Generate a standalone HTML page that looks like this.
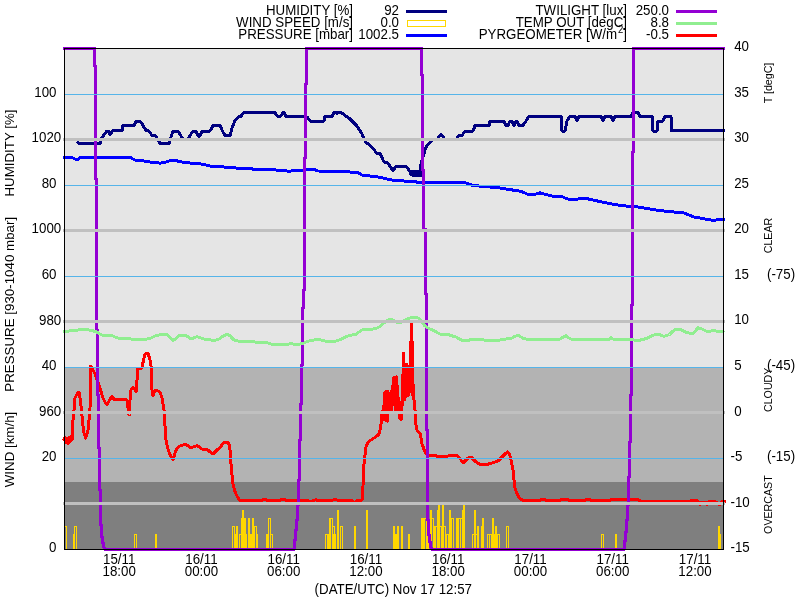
<!DOCTYPE html>
<html><head><meta charset="utf-8"><title>Weather station</title>
<style>
html,body{margin:0;padding:0;background:#fff;}
svg{display:block;}
text{font-family:"Liberation Sans",sans-serif;fill:#000;}
</style></head><body>
<svg width="800" height="600" viewBox="0 0 800 600" font-size="13.33" shape-rendering="crispEdges">
<rect width="800" height="600" fill="#fff"/>
<rect x="64" y="48" width="660" height="319" fill="#e5e5e5"/>
<rect x="64" y="367" width="660" height="115" fill="#b3b3b3"/>
<rect x="64" y="482" width="660" height="67.5" fill="#7f7f7f"/>
<g stroke="#ffd700" stroke-width="1">
<rect x="64.5" y="526.5" width="2" height="23" fill="none"/>
<rect x="73.5" y="534.5" width="1" height="15" fill="none"/>
<rect x="74.5" y="526.5" width="2" height="23" fill="none"/>
<rect x="134.5" y="534.5" width="2" height="15" fill="none"/>
<rect x="155" y="534" width="2" height="15" fill="#ffd700" stroke="none"/>
<rect x="232.5" y="526.5" width="2" height="23" fill="none"/>
<rect x="234" y="534" width="4" height="15" fill="#ffd700" stroke="none"/>
<rect x="236" y="526" width="2" height="23" fill="#ffd700" stroke="none"/>
<rect x="239.5" y="534.5" width="2" height="15" fill="none"/>
<rect x="241" y="518" width="5" height="31" fill="#ffd700" stroke="none"/>
<rect x="242" y="510" width="2" height="39" fill="#ffd700" stroke="none"/>
<rect x="246" y="534" width="1" height="15" fill="#ffd700" stroke="none"/>
<rect x="248" y="518" width="2" height="31" fill="#ffd700" stroke="none"/>
<rect x="250" y="534" width="2" height="15" fill="#ffd700" stroke="none"/>
<rect x="252" y="518" width="2" height="31" fill="#ffd700" stroke="none"/>
<rect x="254.5" y="526.5" width="2" height="23" fill="none"/>
<rect x="256" y="534" width="2" height="15" fill="#ffd700" stroke="none"/>
<rect x="266" y="534" width="2" height="15" fill="#ffd700" stroke="none"/>
<rect x="268.5" y="518.5" width="2" height="31" fill="none"/>
<rect x="270.5" y="534.5" width="2" height="15" fill="none"/>
<rect x="325.5" y="534.5" width="2" height="15" fill="none"/>
<rect x="327" y="534" width="2" height="15" fill="#ffd700" stroke="none"/>
<rect x="329" y="518" width="4" height="31" fill="#ffd700" stroke="none"/>
<rect x="332.5" y="526.5" width="2" height="23" fill="none"/>
<rect x="333" y="534" width="3" height="15" fill="#ffd700" stroke="none"/>
<rect x="337" y="510" width="2" height="39" fill="#ffd700" stroke="none"/>
<rect x="340.5" y="526.5" width="2" height="23" fill="none"/>
<rect x="354" y="526" width="2" height="23" fill="#ffd700" stroke="none"/>
<rect x="366" y="510" width="2" height="39" fill="#ffd700" stroke="none"/>
<rect x="393" y="526" width="2" height="23" fill="#ffd700" stroke="none"/>
<rect x="395" y="534" width="2" height="15" fill="#ffd700" stroke="none"/>
<rect x="397" y="526" width="2" height="23" fill="#ffd700" stroke="none"/>
<rect x="401" y="526" width="2" height="23" fill="#ffd700" stroke="none"/>
<rect x="408" y="534" width="2" height="15" fill="#ffd700" stroke="none"/>
<rect x="421" y="518" width="6" height="31" fill="#ffd700" stroke="none"/>
<rect x="427" y="534" width="2" height="15" fill="#ffd700" stroke="none"/>
<rect x="430" y="510" width="2" height="39" fill="#ffd700" stroke="none"/>
<rect x="432" y="518" width="2" height="31" fill="#ffd700" stroke="none"/>
<rect x="434" y="526" width="3" height="23" fill="#ffd700" stroke="none"/>
<rect x="437" y="510" width="1" height="39" fill="#ffd700" stroke="none"/>
<rect x="438" y="505" width="2" height="44" fill="#ffd700" stroke="none"/>
<rect x="440" y="526" width="2" height="23" fill="#ffd700" stroke="none"/>
<rect x="442" y="505" width="2" height="44" fill="#ffd700" stroke="none"/>
<rect x="444" y="526" width="2" height="23" fill="#ffd700" stroke="none"/>
<rect x="446" y="534" width="3" height="15" fill="#ffd700" stroke="none"/>
<rect x="449" y="510" width="2" height="39" fill="#ffd700" stroke="none"/>
<rect x="451" y="518" width="3" height="31" fill="#ffd700" stroke="none"/>
<rect x="456" y="518" width="6" height="31" fill="#ffd700" stroke="none"/>
<rect x="462" y="510" width="1" height="39" fill="#ffd700" stroke="none"/>
<rect x="463" y="505" width="2" height="44" fill="#ffd700" stroke="none"/>
<rect x="472" y="534" width="2" height="15" fill="#ffd700" stroke="none"/>
<rect x="474" y="510" width="2" height="39" fill="#ffd700" stroke="none"/>
<rect x="476" y="534" width="1" height="15" fill="#ffd700" stroke="none"/>
<rect x="477" y="526" width="2" height="23" fill="#ffd700" stroke="none"/>
<rect x="481" y="526" width="1" height="23" fill="#ffd700" stroke="none"/>
<rect x="482" y="518" width="2" height="31" fill="#ffd700" stroke="none"/>
<rect x="487.5" y="534.5" width="2" height="15" fill="none"/>
<rect x="489.5" y="534.5" width="2" height="15" fill="none"/>
<rect x="492" y="518" width="2" height="31" fill="#ffd700" stroke="none"/>
<rect x="494" y="534" width="1.5" height="15" fill="#ffd700" stroke="none"/>
<rect x="495" y="526" width="2" height="23" fill="#ffd700" stroke="none"/>
<rect x="497.5" y="534.5" width="2" height="15" fill="none"/>
<rect x="506.5" y="526.5" width="2" height="23" fill="none"/>
<rect x="601.5" y="534.5" width="2" height="15" fill="none"/>
<rect x="615" y="534" width="2" height="15" fill="#ffd700" stroke="none"/>
<rect x="718" y="526" width="2" height="23" fill="#ffd700" stroke="none"/>
<rect x="720" y="534" width="1" height="15" fill="#ffd700" stroke="none"/>
<rect x="331" y="519" width="1" height="30" fill="#7f7f7f" stroke="none"/>
<rect x="425" y="519" width="1" height="30" fill="#7f7f7f" stroke="none"/>
<rect x="432" y="519" width="1" height="30" fill="#7f7f7f" stroke="none"/>
<rect x="436" y="527" width="1" height="22" fill="#7f7f7f" stroke="none"/>
<rect x="440" y="527" width="1" height="22" fill="#7f7f7f" stroke="none"/>
<rect x="444" y="527" width="1" height="22" fill="#7f7f7f" stroke="none"/>
<rect x="447" y="535" width="1" height="14" fill="#7f7f7f" stroke="none"/>
<rect x="452" y="519" width="1" height="30" fill="#7f7f7f" stroke="none"/>
<rect x="459" y="519" width="1" height="30" fill="#7f7f7f" stroke="none"/>
<rect x="461" y="519" width="1" height="30" fill="#7f7f7f" stroke="none"/>
<rect x="473" y="535" width="1" height="14" fill="#7f7f7f" stroke="none"/>
<rect x="476" y="535" width="1" height="14" fill="#7f7f7f" stroke="none"/>
</g>
<polyline points="77,141.5 79,143.6 100,143.6 101,139 104,135 107,131 109,131 110,135 112,131.5 113,130.5 122,130.5 123,125.6 134,125.6 136,121 140,121 143,125.4 146,130.5 149,131 152,135.5 155,135 158,140 160,143.6 169,143.6 171,137 173,131 178,131 181,136 183,139 188,139 191,134 193,131 196,131 198,136 200,136 202,131 210,131 213,125.6 220,125.6 222,130 225,135.6 230,135.6 232,128 235,120.5 239,116.3 241,116.3 244,112.4 275,112.4 277,116 281,116 283,112.4 284,112.4 286,116.3 306,116.3 308,118 310,121 324,121 325,116.3 332,116.3 334,112.4 336,112.4 337,114 338,112.4 341,112.4 346,116.3 349,118 352,121 357,126 362,134 366,143 369,144 372,148 374,149 376,153 380,153.5 384,162 387,162.5 390,166 393,171 396,166 406,166 408,169 410,171.5 411,175 412,171 413,175.5 414,171 415,175.5 416,171 417,175.5 418,171.5 419,175.5 420,172 420.5,175.5 421,164 423,157 425,150 427,145 429,144 431,141.5 433,139.6 438,139.6 439,136.4 441,134.4 443,136.5 444,139.6 456.5,139.6 457.5,137 459,135.8 462,135.6 465,131 473,131 475,125.6 489,125.6 490,121 504,121 506,125.4 508,125.4 510,121 512,121 514,125.4 516,121 517,121 519,125.4 523,125.4 526,121 529,116.3 561,116.3 562,131 565,131 567,121 570,116.3 575,116.3 577,121 579,116.3 601,116.3 603,121 605,116.3 611,116.3 613,121 615,116.3 631,116.3 633,112 638,112 640,116.3 652,116.3 653,131 657,131 658,121 663,121 665,116.3 671,116.3 671.5,130.8 724.5,130.8" stroke="#000080" fill="none" stroke-width="3" stroke-linejoin="round" stroke-linecap="butt"/>
<polyline points="63,157.6 72,157.6 75,159 77,159.8 80,157.8 100,157.6 105,158 108,157.4 130,157.4 135,160 142,160.6 150,162 156,162.6 160,163.2 166,162 170,160.6 175,160.4 182,162 190,163 198,163.6 204,164.4 210,166 220,166.8 232,167.4 238,168.4 242,169 250,168.6 255,169.4 266,169 276,170 286,170.8 289,171.4 294,170.4 300,170.2 308,169.6 314,169.4 318,171 330,171.2 340,171.6 350,172 358,172.6 362,175 370,176 380,177.2 386,178.8 392,180 404,181 416,181.8 420,183 426,182.4 440,182.6 452,182.6 466,183 470,184.6 474,185.6 488,186.8 500,188 510,189.6 520,191.2 524,192.6 527,194 536,194 540,192.8 546,194.6 552,196 562,196.6 566,198.4 570,199.6 576,199.6 580,198.4 586,198.4 592,199.8 600,201.6 610,203.6 620,205.4 628,206.2 636,206.6 644,208 650,209 660,210.6 672,211.8 684,213 690,215.4 693,216.8 700,218 706,219.2 712,220.2 716,220 720,219.5 724.5,219.5" stroke="#0000ff" fill="none" stroke-width="3" stroke-linejoin="round" stroke-linecap="butt"/>
<polyline points="63,441 64,440 65,437 66,443 67,438 68,444 69,437 70,442 71,436 72,440 73,420 74,410 75,398 77,394 79,392 80,398 81,406 82,416 83,426 84,433 85.6,438 87,434 88,430 89,420 90,408 90.4,385 90.8,366 93,370 95,374 97,380 100,388 103,398 105,402 107,405 109,401 112,396.4 114,399 115,400 120,399.4 126,399 127.5,402 128.5,414 129.5,414.5 130,400 131,390 133,387 135,390 136,392 137,380 138,368 142,368 143.5,360 145,354 148,353 150,360 151,366 152,390 153,396 155,390 157,390.6 160,392 162,398 163,404 164,410 165,426 166,440 167.5,447 169,452 171,457 173,460 174.5,455 176,450 178,447.6 180,446 183,445 186,444.4 189,446.6 191,448 194,446.6 197,445.6 200,447.6 202,449 205,449.6 208,450 210,452 213,454 216,451 218,449 220,448 222,444.6 224,442.4 228,442 229.4,445 230,450 231,464 232,475 233,484 234.5,490 236,494 238,498 240,500.3 262,500.3 263,499.6 266,499.6 267,500.5 280,500.3 281,499.5 285,499.5 286,500.5 300,500.5 309,501 311,502 313,500.6 316,499.8 318,500.4 332,500.2 335,499.6 339,500.4 345,500.2 348,501 352,500.4 354,502.6 356,502.8 357,500.4 361,500 362,500 363,486 364,464 365,455 365.6,448 368,442 371,440 374,438 377,436 379,434 380,430 381,424 382,414 383,410 383.5,420 384,405 385,392 385.5,412 386,391 386.5,421 387.5,421 388,391 388.5,412 389,403 390,412 390.5,398 391,412 391.5,395 392.5,386 393,400 393.5,378 394.5,405 395,377 396,412 396.5,377 397.5,392 398,412 398.5,398 399.5,405 400,419 401.5,419 402.5,395 403.5,353.5 404,398 404.5,364 405,400 405.5,365 406.5,364.5 407,396 407.5,366 408,396 408.5,380 409,394 409.5,382 410,392 410.5,342 411,388 411.5,324 412,388 412.5,342 412.5,380 413,396 413.5,385 414,400 414.5,408 415.5,412 416,425 417,430 418.5,432 420,433 421,438 422,444 423.5,448 425,452 427,454 429,455 432,456 436,455.4 438,457.6 440,456 444,456.6 448,456 452,455.4 456,455 459,457 461,460 463,463 465,461 467,459 469,457.6 471,457 473.5,459.6 476,462 479,463.8 482,465 486,464.6 490,463.6 494,462.4 498,461 501,458 504,455 506,453 507.6,452 509,453.6 510,456 511.5,462 513,470 514,480 515,488 516.5,492.6 518,496 520,498.4 522.5,500.3 540,500.3 541,499.6 545,499.6 546,500.4 560,500.4 561,499.5 568,499.5 569,500.4 585,500.2 586,499.6 590,499.6 591,500.4 610,500.4 611,499.6 620,500 626,499.6 638,499.8 640,500.6 641,501.6 650,501.6 652,501 660,501.2 664,501 668,501.6 680,501.4 684,501 690,501 692,500.4 697,500.4 698,502 700,504.6 701,502 706,502 707,504.6 708,502 712,501.6 716,502 718,503 719,505 721,503 722,501.6 725.5,501.6" stroke="#ff0000" fill="none" stroke-width="3" stroke-linejoin="round" stroke-linecap="butt"/>
<polyline points="63,48.5 94.5,48.5 94.5,66 95.5,66 95.5,179 96.5,179 96.5,330 97.5,330 97.5,395 98.5,395 98.5,448 99.5,448 99.5,490 100.5,490 100.5,525 101.5,525 101.5,537 102.5,537 102.5,543 103.5,543 103.5,547 105,549.5 293.5,549.5 294.5,547 294.5,540 295.5,540 295.5,530 296.5,530 296.5,520 297.5,520 297.5,505 298.5,505 298.5,480 299.5,480 299.5,440 300.5,440 300.5,404 301.5,404 301.5,365 302.5,365 302.5,308 303.5,308 303.5,290 304.5,290 304.5,158 305.5,158 305.5,84 306.5,84 306.5,48.5 421.5,48.5 421.5,75 422.5,75 422.5,170 423.5,170 423.5,229 425.5,229 425.5,238 425.5,238 425.5,294 426.5,294 426.5,430 427.5,430 427.5,520 428.5,520 428.5,535 429.5,535 429.5,542 430.5,542 430.5,547 432,549.5 623.5,549.5 624.5,547 624.5,541 625.5,541 625.5,532 626.5,532 626.5,520 627.5,520 627.5,505 628.5,505 628.5,477 629.5,477 629.5,442 630.5,442 630.5,395 631.5,395 631.5,305 632.5,305 632.5,152 633.5,152 633.5,48.5 724.5,48.5" stroke="#9400d3" fill="none" stroke-width="3" stroke-linejoin="round" stroke-linecap="butt"/>
<polyline points="63,331.4 68,331.2 72,330.6 76,330.4 80,329.6 88,329.8 92,330.6 96,331.8 100,334 104,336 108,335.2 112,335.6 116,337.4 120,338.6 128,338 132,339.4 136,340 144,339.4 150,338.6 153,337 156,335.6 161,334.6 166,334 169,336 171,339 173,340.4 176,338.6 180,335 186,335.6 189,337.6 191,339 194,337.8 197,336.6 200,337.6 204,339 209,339.8 214,340.4 217,339.8 220,338.6 223,336 227,334.4 230,335.6 232,338 234,340 237,340.8 240,341.4 250,341.4 255,342 260,342 264,342.6 268,343 272,344.4 276,345 281,344.6 286,344.4 292,343.6 296,345 300,344 304,343 307,341.6 310,340.6 314,340 318,339.6 321,340 324,340.6 327,341.6 329,342 334,341.6 337,340.6 340,339.6 344,337.8 348,336 352,335 356,334.4 359,332 362,330 366,329.8 370,329.6 373,329 376,328.4 380,326.6 382,324.6 384,323 387,320.4 390,319 393,320 396,322 400,323 403,321.4 406,319.6 410,318 413,317 417,317.6 420,319 422,322 424,325 426,326.8 428,328 431,329.4 434,330.6 437,332.6 440,334 444,334.2 448,334.6 452,335.8 456,337 459,338.8 462,340.4 468,340.4 471,339.6 474,339 479,339.6 484,340 500,340 504,339.4 508,338.6 512,338 515,336.4 518,335.4 521,337 524,338.6 528,339.4 534,339.4 540,339 560,339 563,337.4 566,335.5 568,337.4 570.5,339 590,339.4 608,340 610,338.6 611,337.6 613,339 615.5,340 628,339.8 639.5,340.2 643,339.4 645.5,338.7 648,337.8 650,336.8 652,335.6 654.5,334.8 659.8,334.8 662,335.6 664,336.3 667,335.4 669.5,334.5 672,332 674.8,329.5 680.8,329.5 683,330.8 686,332.2 689,333 692.8,333.8 695,331.4 698,327.8 700,328.4 702.5,329.2 705,330.6 708.5,332 711,331 713,330.5 717.5,331.2 720,331.6 724.5,332.2" stroke="#90ee90" fill="none" stroke-width="3" stroke-linejoin="round" stroke-linecap="butt"/>
<line x1="64" x2="724" y1="94.5" y2="94.5" stroke="#56b4e9" stroke-width="1"/>
<line x1="64" x2="724" y1="185.5" y2="185.5" stroke="#56b4e9" stroke-width="1"/>
<line x1="64" x2="724" y1="276.5" y2="276.5" stroke="#56b4e9" stroke-width="1"/>
<line x1="64" x2="724" y1="367.5" y2="367.5" stroke="#56b4e9" stroke-width="1"/>
<line x1="64" x2="724" y1="458.5" y2="458.5" stroke="#56b4e9" stroke-width="1"/>
<line x1="63" x2="725" y1="139.5" y2="139.5" stroke="#c0c0c0" stroke-width="3"/>
<line x1="63" x2="725" y1="230.5" y2="230.5" stroke="#c0c0c0" stroke-width="3"/>
<line x1="63" x2="725" y1="321.5" y2="321.5" stroke="#c0c0c0" stroke-width="3"/>
<line x1="63" x2="725" y1="412.5" y2="412.5" stroke="#c0c0c0" stroke-width="3"/>
<line x1="63" x2="725" y1="503.5" y2="503.5" stroke="#c0c0c0" stroke-width="3"/>
<rect x="64.5" y="48.5" width="659" height="501" fill="none" stroke="#000" stroke-width="1"/>
<text transform="translate(353,15) scale(0.9521,1)" text-anchor="end" font-size="14">HUMIDITY [%]</text>
<text transform="translate(399,15) scale(0.9521,1)" text-anchor="end" font-size="14">92</text>
<line x1="406" x2="447" y1="11.5" y2="11.5" stroke="#000080" stroke-width="3"/>
<text transform="translate(353,27) scale(0.9521,1)" text-anchor="end" font-size="14">WIND SPEED [m/s]</text>
<text transform="translate(399,27) scale(0.9521,1)" text-anchor="end" font-size="14">0.0</text>
<rect x="407.5" y="20.5" width="38" height="6" fill="none" stroke="#ffd700" stroke-width="1"/>
<text transform="translate(353,39) scale(0.9521,1)" text-anchor="end" font-size="14">PRESSURE [mbar]</text>
<text transform="translate(399,39) scale(0.9521,1)" text-anchor="end" font-size="14">1002.5</text>
<line x1="406" x2="447" y1="35.5" y2="35.5" stroke="#0000ff" stroke-width="3"/>
<text transform="translate(627,15) scale(0.9521,1)" text-anchor="end" font-size="14">TWILIGHT [lux]</text>
<text transform="translate(669,15) scale(0.9521,1)" text-anchor="end" font-size="14">250.0</text>
<line x1="676" x2="717" y1="11.5" y2="11.5" stroke="#9400d3" stroke-width="3"/>
<text transform="translate(627,27) scale(0.9521,1)" text-anchor="end" font-size="14">TEMP OUT [degC]</text>
<text transform="translate(669,27) scale(0.9521,1)" text-anchor="end" font-size="14">8.8</text>
<line x1="676" x2="717" y1="23.5" y2="23.5" stroke="#90ee90" stroke-width="3"/>
<text transform="translate(627,39) scale(0.9521,1)" text-anchor="end" font-size="14">PYRGEOMETER [W/m<tspan font-size="10" dx="1" dy="-6">2</tspan><tspan dy="6">]</tspan></text>
<text transform="translate(669,39) scale(0.9521,1)" text-anchor="end" font-size="14">-0.5</text>
<line x1="676" x2="717" y1="35.5" y2="35.5" stroke="#ff0000" stroke-width="3"/>
<text transform="translate(56.5,96.7) scale(0.9521,1)" text-anchor="end" font-size="14">100</text>
<text transform="translate(56.5,187.8) scale(0.9521,1)" text-anchor="end" font-size="14">80</text>
<text transform="translate(56.5,278.9) scale(0.9521,1)" text-anchor="end" font-size="14">60</text>
<text transform="translate(56.5,370) scale(0.9521,1)" text-anchor="end" font-size="14">40</text>
<text transform="translate(56.5,461.1) scale(0.9521,1)" text-anchor="end" font-size="14">20</text>
<text transform="translate(56.5,552.2) scale(0.9521,1)" text-anchor="end" font-size="14">0</text>
<text transform="translate(61.2,142.3) scale(0.9521,1)" text-anchor="end" font-size="14">1020</text>
<text transform="translate(61.2,233.4) scale(0.9521,1)" text-anchor="end" font-size="14">1000</text>
<text transform="translate(61.2,324.5) scale(0.9521,1)" text-anchor="end" font-size="14">980</text>
<text transform="translate(61.2,415.6) scale(0.9521,1)" text-anchor="end" font-size="14">960</text>
<text transform="translate(730.5,51.1) scale(0.9521,1)" text-anchor="start" font-size="14" xml:space="preserve">&#160;40</text>
<text transform="translate(730.5,96.6) scale(0.9521,1)" text-anchor="start" font-size="14" xml:space="preserve">&#160;35</text>
<text transform="translate(730.5,142.2) scale(0.9521,1)" text-anchor="start" font-size="14" xml:space="preserve">&#160;30</text>
<text transform="translate(730.5,187.7) scale(0.9521,1)" text-anchor="start" font-size="14" xml:space="preserve">&#160;25</text>
<text transform="translate(730.5,233.3) scale(0.9521,1)" text-anchor="start" font-size="14" xml:space="preserve">&#160;20</text>
<text transform="translate(730.5,278.8) scale(0.9521,1)" text-anchor="start" font-size="14" xml:space="preserve">&#160;15</text>
<text transform="translate(730.5,324.4) scale(0.9521,1)" text-anchor="start" font-size="14" xml:space="preserve">&#160;10</text>
<text transform="translate(730.5,369.9) scale(0.9521,1)" text-anchor="start" font-size="14" xml:space="preserve">&#160;5</text>
<text transform="translate(730.5,415.5) scale(0.9521,1)" text-anchor="start" font-size="14" xml:space="preserve">&#160;0</text>
<text transform="translate(730.5,461) scale(0.9521,1)" text-anchor="start" font-size="14" xml:space="preserve">-5</text>
<text transform="translate(730.5,506.6) scale(0.9521,1)" text-anchor="start" font-size="14" xml:space="preserve">-10</text>
<text transform="translate(730.5,552.1) scale(0.9521,1)" text-anchor="start" font-size="14" xml:space="preserve">-15</text>
<text transform="translate(14.3,153) rotate(-90) scale(1.0000,1)" text-anchor="middle" font-size="13.33">HUMIDITY [%]</text>
<text transform="translate(14.3,304.3) rotate(-90) scale(1.0000,1)" text-anchor="middle" font-size="13.33">PRESSURE [930-1040 mbar]</text>
<text transform="translate(14.3,449.5) rotate(-90) scale(1.0000,1)" text-anchor="middle" font-size="13.33">WIND [km/h]</text>
<text transform="translate(772,83) rotate(-90) scale(1.0000,1)" text-anchor="middle" font-size="10.67">T [degC]</text>
<text transform="translate(772,235.5) rotate(-90) scale(1.0000,1)" text-anchor="middle" font-size="10.67">CLEAR</text>
<text transform="translate(772,389.8) rotate(-90) scale(1.0000,1)" text-anchor="middle" font-size="10.67">CLOUDY</text>
<text transform="translate(772,504.6) rotate(-90) scale(1.0000,1)" text-anchor="middle" font-size="10.67">OVERCAST</text>
<text transform="translate(767,278.8) scale(0.9521,1)" text-anchor="start" font-size="14">(-75)</text>
<text transform="translate(767,369.9) scale(0.9521,1)" text-anchor="start" font-size="14">(-45)</text>
<text transform="translate(767,461) scale(0.9521,1)" text-anchor="start" font-size="14">(-15)</text>
<text transform="translate(119.2,563.5) scale(0.9521,1)" text-anchor="middle" font-size="14">15/11</text>
<text transform="translate(119.2,576) scale(0.9521,1)" text-anchor="middle" font-size="14">18:00</text>
<text transform="translate(201.4,563.5) scale(0.9521,1)" text-anchor="middle" font-size="14">16/11</text>
<text transform="translate(201.4,576) scale(0.9521,1)" text-anchor="middle" font-size="14">00:00</text>
<text transform="translate(283.7,563.5) scale(0.9521,1)" text-anchor="middle" font-size="14">16/11</text>
<text transform="translate(283.7,576) scale(0.9521,1)" text-anchor="middle" font-size="14">06:00</text>
<text transform="translate(365.9,563.5) scale(0.9521,1)" text-anchor="middle" font-size="14">16/11</text>
<text transform="translate(365.9,576) scale(0.9521,1)" text-anchor="middle" font-size="14">12:00</text>
<text transform="translate(448.2,563.5) scale(0.9521,1)" text-anchor="middle" font-size="14">16/11</text>
<text transform="translate(448.2,576) scale(0.9521,1)" text-anchor="middle" font-size="14">18:00</text>
<text transform="translate(530.5,563.5) scale(0.9521,1)" text-anchor="middle" font-size="14">17/11</text>
<text transform="translate(530.5,576) scale(0.9521,1)" text-anchor="middle" font-size="14">00:00</text>
<text transform="translate(612.7,563.5) scale(0.9521,1)" text-anchor="middle" font-size="14">17/11</text>
<text transform="translate(612.7,576) scale(0.9521,1)" text-anchor="middle" font-size="14">06:00</text>
<text transform="translate(695,563.5) scale(0.9521,1)" text-anchor="middle" font-size="14">17/11</text>
<text transform="translate(695,576) scale(0.9521,1)" text-anchor="middle" font-size="14">12:00</text>
<text transform="translate(393.3,594) scale(0.9521,1)" text-anchor="middle" font-size="14">(DATE/UTC) Nov 17 12:57</text>
</svg></body></html>
